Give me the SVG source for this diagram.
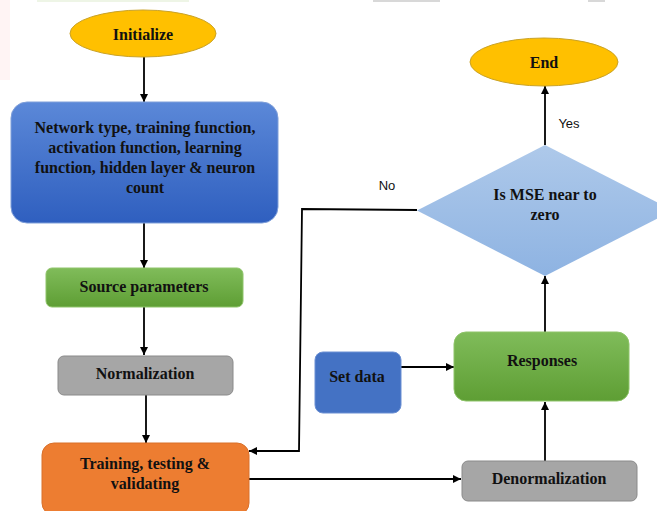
<svg xmlns="http://www.w3.org/2000/svg" width="657" height="511" viewBox="0 0 657 511">
<defs>
<linearGradient id="gBlue" x1="0" y1="0" x2="0" y2="1"><stop offset="0" stop-color="#5B88D8"/><stop offset="1" stop-color="#2F5FBF"/></linearGradient>
<linearGradient id="gGreen" x1="0" y1="0" x2="0" y2="1"><stop offset="0" stop-color="#80BC5A"/><stop offset="1" stop-color="#5E9E34"/></linearGradient>
<linearGradient id="gDia" x1="0" y1="0" x2="0" y2="1"><stop offset="0" stop-color="#AEC9EA"/><stop offset="1" stop-color="#8EB3E2"/></linearGradient>
<marker id="arr" viewBox="0 0 10 10" refX="10" refY="5" markerWidth="8" markerHeight="8" markerUnits="userSpaceOnUse" orient="auto"><path d="M0,0 L10,5 L0,10 z" fill="#000"/></marker>
</defs>
<style>
.t{font-family:"Liberation Serif","Times New Roman",serif;font-weight:bold;font-size:16px;fill:#111;text-anchor:middle}
.l{font-family:"Liberation Sans",Arial,sans-serif;font-size:13px;fill:#111;text-anchor:middle}
.c{fill:none;stroke:#000;stroke-width:1.8;marker-end:url(#arr)}
.term{fill:#FFC000;stroke:#C9A227;stroke-width:1}
.gray{fill:#A6A6A6;stroke:#8A8A8A;stroke-width:1}
</style>
<rect width="657" height="511" fill="#fff"/>
<rect x="37" y="0" width="152" height="2" fill="#EEF5E6"/>
<rect x="0" y="0" width="10" height="80" fill="#FFF4F4"/>
<rect x="373" y="0" width="67" height="2" fill="#D8D8D8"/>
<rect x="588" y="0" width="17" height="2" fill="#D8D8D8"/>
<g id="connectors">
<line class="c" x1="144" y1="57" x2="144" y2="102"/>
<line class="c" x1="144" y1="223" x2="144" y2="268"/>
<line class="c" x1="144" y1="307" x2="144" y2="355"/>
<line class="c" x1="146" y1="395" x2="146" y2="443"/>
<line class="c" x1="249" y1="479" x2="461" y2="479"/>
<line class="c" x1="545" y1="461" x2="545" y2="402"/>
<line class="c" x1="401" y1="367" x2="454" y2="367"/>
<line class="c" x1="545" y1="332" x2="545" y2="276"/>
<line class="c" x1="545" y1="145" x2="545" y2="86"/>
<polyline class="c" points="417,210 302,209 299,451 249,451"/>
<text class="l" x="569" y="128">Yes</text>
<text class="l" x="387" y="190">No</text>
</g>
<g id="initialize">
<ellipse class="term" cx="143" cy="33.5" rx="73" ry="23.5"/>
<text class="t" x="143" y="40">Initialize</text>
</g>
<g id="network">
<rect x="11" y="102" width="267" height="121" rx="16" fill="url(#gBlue)" stroke="#7F9FD9" stroke-width="1"/>
<text class="t" x="145" y="133">Network type, training function,</text>
<text class="t" x="145" y="153">activation function, learning</text>
<text class="t" x="145" y="173">function, hidden layer &amp; neuron</text>
<text class="t" x="145" y="193">count</text>
</g>
<g id="source">
<rect x="46" y="268" width="197" height="39" rx="6" fill="url(#gGreen)" stroke="#8FC46A" stroke-width="1"/>
<text class="t" x="144" y="292">Source parameters</text>
</g>
<g id="normalization">
<rect class="gray" x="58" y="356" width="175" height="39" rx="6"/>
<text class="t" x="145" y="379">Normalization</text>
</g>
<g id="training">
<rect x="42" y="443" width="207" height="72" rx="12" fill="#ED7D31" stroke="#D9702A" stroke-width="1"/>
<text class="t" x="145" y="469">Training, testing &amp;</text>
<text class="t" x="145" y="489">validating</text>
</g>
<g id="denormalization">
<rect class="gray" x="462" y="461" width="175" height="40" rx="6"/>
<text class="t" x="549" y="484">Denormalization</text>
</g>
<g id="responses">
<rect x="454" y="332" width="175" height="69" rx="12" fill="url(#gGreen)" stroke="#8FC46A" stroke-width="1"/>
<text class="t" x="542" y="366">Responses</text>
</g>
<g id="setdata">
<rect x="315" y="352" width="86" height="61" rx="8" fill="#4472C4" stroke="#6A8FD3" stroke-width="1"/>
<text class="t" x="357" y="382">Set data</text>
</g>
<g id="decision">
<polygon points="417,210.5 545,145 673,210.5 545,276" fill="url(#gDia)"/>
<text class="t" x="545" y="200">Is MSE near to</text>
<text class="t" x="545" y="220">zero</text>
</g>
<g id="end">
<ellipse class="term" cx="544" cy="62" rx="74" ry="24"/>
<text class="t" x="544" y="68">End</text>
</g>
</svg>
